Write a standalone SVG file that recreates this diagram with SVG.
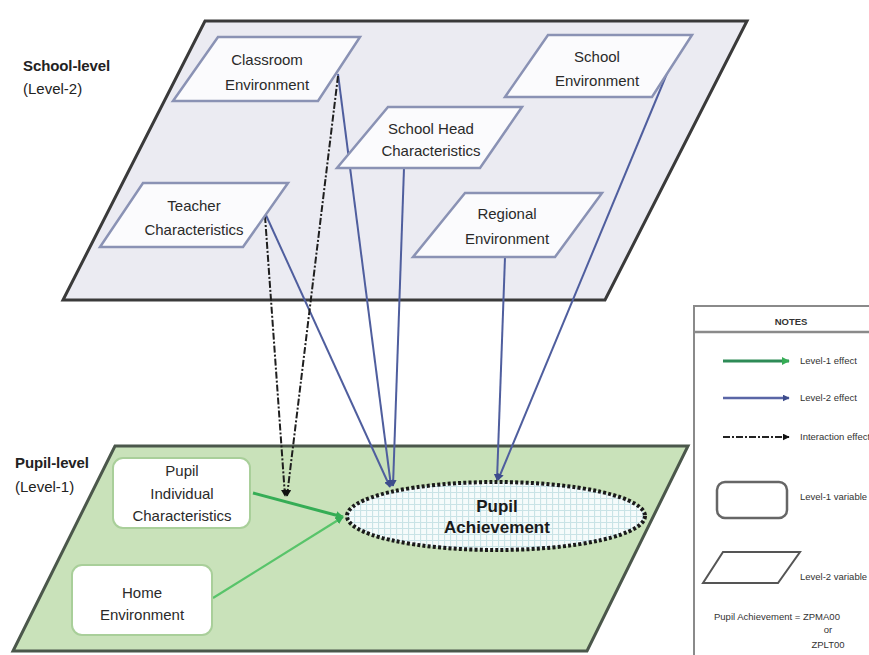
<svg xmlns="http://www.w3.org/2000/svg" width="869" height="655" viewBox="0 0 869 655">
<defs>
<style>
.lbl{font-family:"Liberation Sans",Arial,sans-serif;font-size:15px;fill:#2a2a2a;text-anchor:middle}
.lvl{font-family:"Liberation Sans",Arial,sans-serif;font-size:15px;fill:#222}
.lvlb{font-weight:bold;letter-spacing:-0.1px}
.pa{font-family:"Liberation Sans",Arial,sans-serif;font-size:17px;font-weight:bold;fill:#1a1a1a;text-anchor:middle}
.leg{font-family:"Liberation Sans",Arial,sans-serif;font-size:9.5px;fill:#333}
.par{fill:#fbfbfd;stroke:#8a92b4;stroke-width:2.5}
.rr{fill:#ffffff;stroke:#a9cf9a;stroke-width:2}
.blue{stroke:#4f5e9e;stroke-width:2;fill:none;marker-end:url(#ab)}
.green{stroke:#35ad55;stroke-width:3;fill:none;marker-end:url(#ag)}
.inter{stroke:#1e1e1e;stroke-width:2;fill:none;stroke-dasharray:7 2 2 2;marker-end:url(#ak)}
</style>
<marker id="ab" viewBox="0 0 10 10" refX="9" refY="5" markerWidth="7" markerHeight="7" markerUnits="userSpaceOnUse" orient="auto"><path d="M0,0 L10,5 L0,10 z" fill="#3d4c8c"/></marker>
<marker id="ag" viewBox="0 0 10 10" refX="9" refY="5" markerWidth="8" markerHeight="8" markerUnits="userSpaceOnUse" orient="auto"><path d="M0,0 L10,5 L0,10 z" fill="#35ad55"/></marker>
<marker id="ak" viewBox="0 0 10 10" refX="9" refY="5" markerWidth="7" markerHeight="7" markerUnits="userSpaceOnUse" orient="auto"><path d="M0,0 L10,5 L0,10 z" fill="#111"/></marker>
<pattern id="grid" width="6" height="6" patternUnits="userSpaceOnUse">
<rect width="6" height="6" fill="#f5fbfb"/>
<path d="M0,0.5 H6 M0.5,0 V6" stroke="#c9e3e6" stroke-width="1.2"/>
</pattern>
</defs>
<rect width="869" height="655" fill="#ffffff"/>

<!-- planes -->
<g id="school-plane">
<polygon points="205,21 747,21 605,300 63,300" fill="#ebebf2" stroke="#3a3a3a" stroke-width="3"/>
<text class="lvl lvlb" x="23" y="71">School-level</text>
<text class="lvl" x="23" y="94">(Level-2)</text>
</g>
<g id="pupil-plane">
<polygon points="115,446 688,446 587,651 13,651" fill="#c9e2ba" stroke="#4b574b" stroke-width="3"/>
<text class="lvl lvlb" x="15" y="468">Pupil-level</text>
<text class="lvl" x="15" y="492">(Level-1)</text>
</g>

<!-- connectors -->
<g id="connectors">
<line class="blue" x1="338" y1="74" x2="391" y2="486"/>
<line class="blue" x1="265" y1="213" x2="390" y2="487"/>
<line class="blue" x1="404" y1="168" x2="393" y2="486"/>
<line class="blue" x1="505" y1="257" x2="497" y2="480"/>
<line class="blue" x1="668" y1="71" x2="498" y2="480"/>
<line class="green" x1="253" y1="493" x2="343" y2="517"/>
<line class="green" x1="213" y1="598" x2="343" y2="517" style="stroke:#58c46a;stroke-width:2.2"/>
<line class="inter" x1="338" y1="76" x2="287" y2="496"/>
<line class="inter" x1="265" y1="216" x2="285" y2="496"/>
</g>

<!-- level-2 nodes -->
<g id="classroom-environment">
<polygon class="par" points="218,37 360,37 318,101 173,101"/>
<text class="lbl" x="267" y="65">Classroom</text>
<text class="lbl" x="267" y="90">Environment</text>
</g>
<g id="school-environment">
<polygon class="par" points="548,35 692,35 652,97 505,97"/>
<text class="lbl" x="597" y="62">School</text>
<text class="lbl" x="597" y="86">Environment</text>
</g>
<g id="school-head-characteristics">
<polygon class="par" points="388,107 522,107 480,168 337,168"/>
<text class="lbl" x="431" y="134">School Head</text>
<text class="lbl" x="431" y="156">Characteristics</text>
</g>
<g id="regional-environment">
<polygon class="par" points="465,193 602,193 555,257 413,257"/>
<text class="lbl" x="507" y="219">Regional</text>
<text class="lbl" x="507" y="244">Environment</text>
</g>
<g id="teacher-characteristics">
<polygon class="par" points="143,183 288,183 243,247 100,247"/>
<text class="lbl" x="194" y="211">Teacher</text>
<text class="lbl" x="194" y="235">Characteristics</text>
</g>

<!-- level-1 nodes -->
<g id="pupil-individual-characteristics">
<rect class="rr" x="113" y="458" width="137" height="70" rx="10"/>
<text class="lbl" x="182" y="476">Pupil</text>
<text class="lbl" x="182" y="499">Individual</text>
<text class="lbl" x="182" y="521">Characteristics</text>
</g>
<g id="home-environment">
<rect class="rr" x="72" y="565" width="140" height="70" rx="10"/>
<text class="lbl" x="142" y="598">Home</text>
<text class="lbl" x="142" y="620">Environment</text>
</g>
<g id="pupil-achievement">
<ellipse cx="496" cy="516" rx="149" ry="34" fill="url(#grid)" stroke="#1a1a1a" stroke-width="4" stroke-dasharray="3 2.2"/>
<text class="pa" x="497" y="512">Pupil</text>
<text class="pa" x="497" y="533">Achievement</text>
</g>

<!-- legend -->
<g id="legend">
<rect x="694" y="306" width="200" height="360" fill="#ffffff" stroke="#8a8a8a" stroke-width="2"/>
<line x1="694" y1="332" x2="869" y2="332" stroke="#8a8a8a" stroke-width="2.5"/>
<text class="leg" x="791" y="325" text-anchor="middle" font-weight="bold">NOTES</text>
<line x1="723" y1="361" x2="789" y2="361" stroke="#2e8b57" stroke-width="3" marker-end="url(#ag)"/>
<text class="leg" x="800" y="364">Level-1 effect</text>
<line x1="723" y1="398" x2="789" y2="398" stroke="#5a66a6" stroke-width="2.5" marker-end="url(#ab)"/>
<text class="leg" x="800" y="401">Level-2 effect</text>
<line x1="723" y1="437" x2="789" y2="437" stroke="#222" stroke-width="2" stroke-dasharray="7 2 2 2" marker-end="url(#ak)"/>
<text class="leg" x="800" y="440">Interaction effect</text>
<rect x="717" y="482" width="70" height="36" rx="8" fill="#ffffff" stroke="#666" stroke-width="2.5"/>
<text class="leg" x="800" y="500">Level-1 variable</text>
<polygon points="723,552 800,552 778,583 703,583" fill="#ffffff" stroke="#555" stroke-width="2"/>
<text class="leg" x="800" y="580">Level-2 variable</text>
<text class="leg" x="714" y="620">Pupil Achievement = ZPMA00</text>
<text class="leg" x="828" y="633" text-anchor="middle">or</text>
<text class="leg" x="828" y="648" text-anchor="middle">ZPLT00</text>
</g>
</svg>
